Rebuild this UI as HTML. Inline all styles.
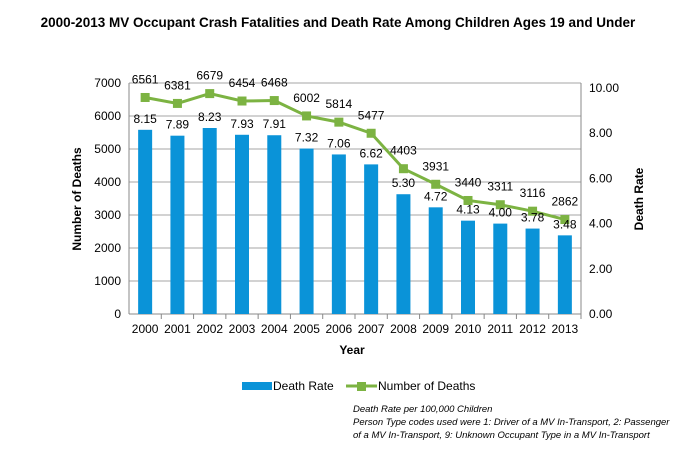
<!DOCTYPE html>
<html><head><meta charset="utf-8"><style>
body{margin:0;background:#fff;}
svg text{font-family:"Liberation Sans",sans-serif;}
</style></head><body>
<svg width="676" height="451" xmlns="http://www.w3.org/2000/svg">
<text x="338" y="27" text-anchor="middle" font-size="13.5" font-weight="bold">2000-2013 MV Occupant Crash Fatalities and Death Rate Among Children Ages 19 and Under</text>
<g id="axes"></g><g id="bars"></g><g id="line"></g><g id="labels"></g>
<text x="352" y="354" text-anchor="middle" font-size="12" font-weight="bold">Year</text>
<text transform="translate(81,199) rotate(-90)" text-anchor="middle" font-size="12" font-weight="bold">Number of Deaths</text>
<text transform="translate(643,199) rotate(-90)" text-anchor="middle" font-size="12" font-weight="bold">Death Rate</text>
<g>
<rect x="242" y="382" width="30" height="8" fill="#0a93d8"/>
<text x="273" y="390" font-size="12">Death Rate</text>
<line x1="346" y1="386" x2="377" y2="386" stroke="#7cb342" stroke-width="3"/>
<rect x="357" y="382" width="9" height="9" fill="#7cb342"/>
<text x="378" y="390" font-size="12">Number of Deaths</text>
</g>
<g font-size="9.5" font-style="italic">
<text x="353" y="412">Death Rate per 100,000 Children</text>
<text x="353" y="425">Person Type codes used were 1: Driver of a MV In-Transport, 2: Passenger</text>
<text x="353" y="438">of a MV In-Transport, 9: Unknown Occupant Type in a MV In-Transport</text>
</g>
<script>
const years=["2000","2001","2002","2003","2004","2005","2006","2007","2008","2009","2010","2011","2012","2013"];
const deaths=[6561,6381,6679,6454,6468,6002,5814,5477,4403,3931,3440,3311,3116,2862];
const rates=[8.15,7.89,8.23,7.93,7.91,7.32,7.06,6.62,5.30,4.72,4.13,4.00,3.78,3.48];
const leftTicks=[0,1000,2000,3000,4000,5000,6000,7000];
const rightTicks=[0,2,4,6,8,10];
const NS="http://www.w3.org/2000/svg";
const X0=129,X1=581,Y0=314;
const xC=i=>X0+(X1-X0)/years.length*(i+0.5);
const yL=v=>Y0-v*(314-83)/7000;
const yR=v=>Y0-v*(314-88)/10;
function mk(p,t,a){const e=document.createElementNS(NS,t);for(const k in a)e.setAttribute(k,a[k]);p.appendChild(e);return e;}
const ax=document.getElementById('axes'),bg=document.getElementById('bars'),lg=document.getElementById('line'),lb=document.getElementById('labels');
let e;
leftTicks.forEach(v=>{if(v===0)return;e=mk(ax,'line',{x1:X0,y1:yL(v),x2:X1,y2:yL(v),stroke:'#a6a6a6'});
});
e=mk(ax,'line',{x1:X0,y1:83,x2:X0,y2:Y0,stroke:'#888'});

e=mk(ax,'line',{x1:X1,y1:83,x2:X1,y2:Y0,stroke:'#888'});

e=mk(ax,'line',{x1:X0,y1:Y0,x2:X1,y2:Y0,stroke:'#888'});

leftTicks.forEach(v=>{e=mk(ax,'text',{x:X0-8,y:yL(v)+4,'text-anchor':'end','font-size':12});e.textContent=v;
});
rightTicks.forEach(v=>{e=mk(ax,'text',{x:X1+8,y:yR(v)+4,'font-size':12});e.textContent=v.toFixed(2);
});
years.forEach((y,i)=>{const step=(X1-X0)/years.length;
e=mk(ax,'line',{x1:X0+step*(i+1),y1:Y0,x2:X0+step*(i+1),y2:Y0+5,stroke:'#888'});

e=mk(ax,'text',{x:xC(i),y:Y0+19,'text-anchor':'middle','font-size':12});e.textContent=y;

e=mk(bg,'rect',{x:xC(i)-7,y:yR(rates[i]),width:14,height:Y0-yR(rates[i]),fill:'#0a93d8'});

e=mk(lb,'text',{x:xC(i),y:yR(rates[i])-7,'text-anchor':'middle','font-size':12});e.textContent=rates[i].toFixed(2);

e=mk(lb,'text',{x:xC(i),y:yL(deaths[i])-14,'text-anchor':'middle','font-size':12});e.textContent=deaths[i];
});
e=mk(lg,'polyline',{points:deaths.map((d,i)=>xC(i)+','+yL(d)).join(' '),fill:'none',stroke:'#7cb342','stroke-width':3});

deaths.forEach((d,i)=>{e=mk(lg,'rect',{x:xC(i)-4.5,y:yL(d)-4.5,width:9,height:9,fill:'#7cb342'});
});
</script>
</svg></body></html>
